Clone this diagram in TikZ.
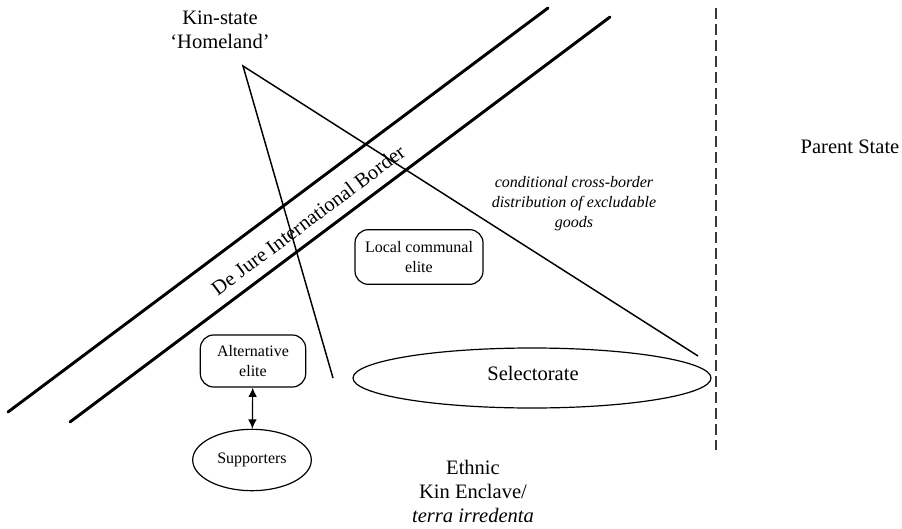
\documentclass[tikz,border=0pt]{standalone}
\usepackage{fontspec}
\setmainfont{Liberation Serif}
\usetikzlibrary{shapes.geometric,arrows.meta}
\begin{document}
\begin{tikzpicture}[x=0.75pt,y=-0.75pt,
  big/.style={font=\fontsize{15.4}{18}\selectfont, align=center, inner sep=0pt},
  small/.style={font=\fontsize{12}{15}\selectfont, align=center, inner sep=0pt},
  borderline/.style={line width=2.2pt, line cap=round},
  thinline/.style={line width=1.1pt},
  rbox/.style={draw, line width=0.9pt, rounded corners=10pt, small},
  oval/.style={draw, ellipse, line width=0.9pt, inner sep=0pt},
  twoway/.style={line width=0.9pt, {Latex[length=7pt,width=6.5pt]}-{Latex[length=7pt,width=6.5pt]}}
]
\useasboundingbox (0,0) rectangle (902,528);

% border lines
\coordinate (b1s) at (8,412);
\coordinate (b1e) at (548,8);
\coordinate (b2s) at (70,422);
\coordinate (b2e) at (610,17);
\draw[borderline] (b1s) -- (b1e);
\draw[borderline] (b2s) -- (b2e);
\node[big, rotate=36.8] (border) at (308,220) {De Jure International Border};

% triangle
\coordinate (apex) at (243,66);
\coordinate (lfoot) at (333,378);
\coordinate (rfoot) at (698,356);
\draw[thinline] (lfoot) -- (apex) -- (rfoot);

% dashed parent-state line
\coordinate (dtop) at (716,8);
\coordinate (dbot) at (716,450);
\draw[line width=1.7pt, gray!45!black, dash pattern=on 8pt off 4pt] (dtop) -- (dbot);

% labels
\node[big] (kin) at (220,30) {Kin-state\\‘Homeland’};
\node[big] (parent) at (850,147) {Parent State};
\node[small, font=\fontsize{12}{15}\itshape\selectfont] (cond) at (574,204)
  {conditional cross-border\\distribution of excludable\\goods};
\node[big] (ethnic) at (473,491) {Ethnic\\Kin Enclave/\\\textit{terra irredenta}};

% boxes
\node[rbox, minimum width=96pt, minimum height=41pt] (local) at (419,257) {Local communal\\elite};
\node[rbox, minimum width=79pt, minimum height=39pt] (alt) at (253,361) {Alternative\\elite};
\node[oval, minimum width=268.5pt, minimum height=45pt] (sel) at (532,378) {};
\node[big] (seltext) at (533,373) {Selectorate};
\node[oval, small, minimum width=89pt, minimum height=46pt] (sup) at (252,460) {Supporters};

\draw[twoway] (alt) -- (sup);
\end{tikzpicture}
\end{document}
